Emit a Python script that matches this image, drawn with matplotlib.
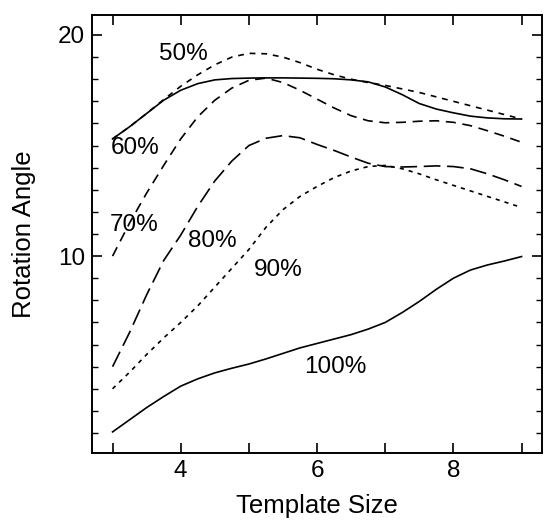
import numpy as np
import matplotlib
matplotlib.use('Agg')
from matplotlib import pyplot as plt

plt.rcParams['font.family'] = ['Liberation Sans', 'DejaVu Sans']

# template sizes
x = [3, 3.25, 3.5, 3.75, 4, 4.25, 4.5, 4.75, 5, 5.25, 5.5, 5.75, 6,
     6.25, 6.5, 6.75, 7, 7.25, 7.5, 7.75, 8, 8.25, 8.5, 8.75, 9]

# rotation angle for each threshold level
y50 = [15.3, 15.85, 16.45, 17.08, 17.68, 18.2, 18.65, 19.0, 19.17, 19.15, 19.0, 18.75, 18.45,
       18.2, 18.0, 17.85, 17.72, 17.56, 17.4, 17.2, 17.0, 16.8, 16.6, 16.4, 16.2]
y60 = [15.3, 15.85, 16.45, 17.05, 17.5, 17.8, 17.97, 18.03, 18.05, 18.06, 18.06, 18.05, 18.04,
       18.02, 17.97, 17.88, 17.65, 17.3, 16.9, 16.65, 16.48, 16.33, 16.25, 16.21, 16.2]
y70 = [10.0, 11.5, 12.85, 14.1, 15.3, 16.3, 17.05, 17.6, 17.95, 18.05, 17.85, 17.5, 17.1,
       16.7, 16.35, 16.12, 16.03, 16.05, 16.1, 16.12, 16.05, 15.9, 15.67, 15.42, 15.15]
y80 = [5.0, 6.55, 8.25, 9.8, 10.95, 12.25, 13.4, 14.3, 15.0, 15.33, 15.45, 15.35, 15.05,
       14.78, 14.48, 14.2, 14.05, 14.03, 14.05, 14.08, 14.05, 13.95, 13.72, 13.45, 13.15]
y90 = [4.0, 4.75, 5.55, 6.3, 7.0, 7.75, 8.6, 9.45, 10.3, 11.3, 12.1, 12.7, 13.15,
       13.55, 13.85, 14.05, 14.1, 13.95, 13.72, 13.45, 13.2, 12.95, 12.7, 12.45, 12.2]
y100 = [2.05, 2.6, 3.15, 3.65, 4.12, 4.45, 4.72, 4.93, 5.12, 5.35, 5.6, 5.85, 6.05,
        6.25, 6.45, 6.7, 7.0, 7.45, 7.95, 8.5, 9.0, 9.37, 9.6, 9.78, 9.98]

labels = ['50%', '60%', '70%', '80%', '90%', '100%']
label_x = [4.04, 3.33, 3.31, 4.47, 5.43, 6.27]
label_y = [19.15, 14.9, 11.4, 10.7, 9.37, 5.0]


def main():
    fig = plt.figure(figsize=(5.45, 5.2), dpi=100)
    ax = fig.add_axes([0.169, 0.129, 0.8255, 0.842])

    lw = 1.2
    ax.plot(x, y50, color='black', lw=lw, dashes=(3.5, 3.5))
    ax.plot(x, y60, color='black', lw=lw)
    ax.plot(x, y70, color='black', lw=lw, dashes=(6, 4))
    ax.plot(x, y80, color='black', lw=lw, dashes=(10, 4))
    ax.plot(x, y90, color='black', lw=lw, dashes=(2.5, 3))
    ax.plot(x, y100, color='black', lw=lw)

    for lab, lx, ly in zip(labels, label_x, label_y):
        ax.text(lx, ly, lab, fontsize=17.5, ha='center', va='center')

    ax.set_xlim(2.7, 9.3)
    ax.set_ylim(1.1, 20.9)

    ax.set_xticks([3, 4, 5, 6, 7, 8, 9])
    ax.set_xticklabels(['', '4', '', '6', '', '8', ''])
    ax.set_yticks([10, 20])
    ax.set_yticks(np.arange(2, 21, 1), minor=True)

    ax.tick_params(axis='both', which='major', direction='in', top=True, right=True,
                   length=7, width=1.2, labelsize=17.5, pad=5)
    ax.tick_params(axis='y', which='minor', direction='in', left=True, right=True,
                   length=4.5, width=1.0)

    for s in ax.spines.values():
        s.set_linewidth(1.4)

    ax.set_xlabel('Template Size', fontsize=18.5, labelpad=9)
    ax.set_ylabel('Rotation Angle', fontsize=18.5, labelpad=16)

    fig.savefig('out.png', dpi=100)
    return

if __name__ == "__main__":
    main()
